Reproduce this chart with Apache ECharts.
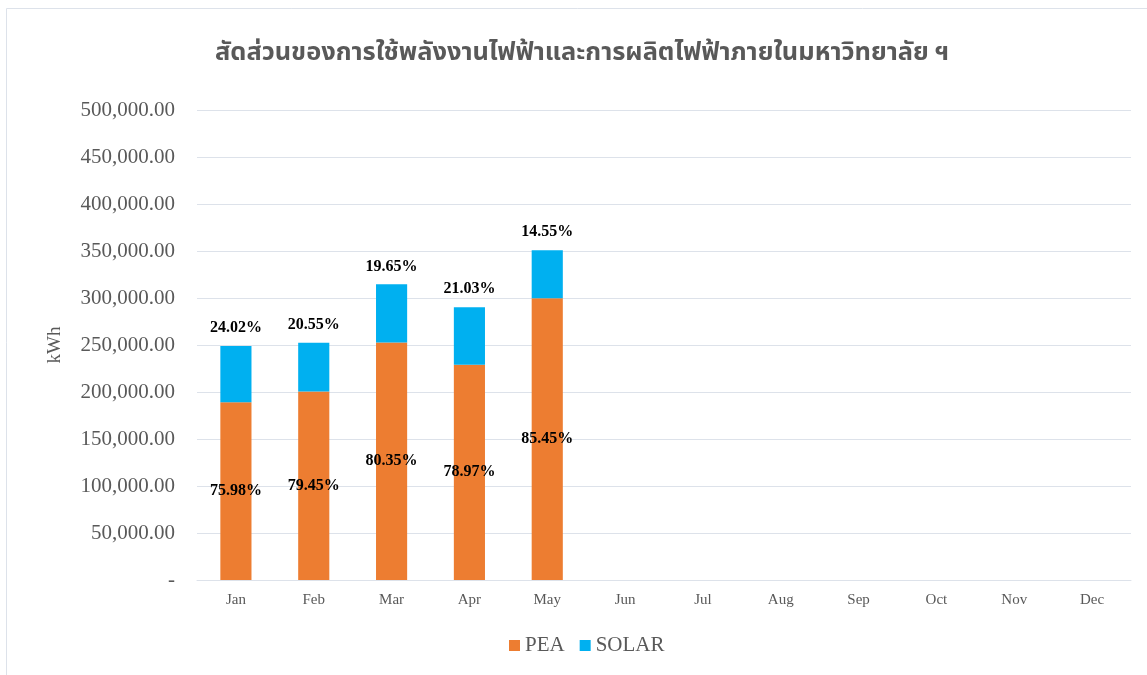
<!DOCTYPE html>
<html>
<head>
<meta charset="utf-8">
<style>
  html, body { margin: 0; padding: 0; background: #fff; }
  #chart { width: 1147px; height: 675px; }
</style>
<script src="https://cdn.jsdelivr.net/npm/echarts@6/dist/echarts.min.js"></script>
</head>
<body>
<div id="chart"></div>
<script>
// monthly energy, kWh
const months = ['Jan', 'Feb', 'Mar', 'Apr', 'May', 'Jun', 'Jul', 'Aug', 'Sep', 'Oct', 'Nov', 'Dec']
const peaValues = [189200, 200600, 252700, 229100, 299700, null, null, null, null, null, null, null]
const solarValues = [59800, 51900, 61800, 61000, 51000, null, null, null, null, null, null, null]
// share labels as printed on the chart
const peaShare = ['75.98%', '79.45%', '80.35%', '78.97%', '85.45%']
const solarShare = ['24.02%', '20.55%', '19.65%', '21.03%', '14.55%']

const serif = '"Liberation Serif", "Times New Roman", serif'
const grey = '#595959'
const gridGrey = '#dde2ea'

const labelStyle = {
	show: true,
	fontFamily: serif,
	fontWeight: 'bold',
	fontSize: 16,
	color: '#000',
}

const chart = echarts.init(document.getElementById('chart'), null, { renderer: 'canvas' })

chart.setOption({
	backgroundColor: '#fff',
	animation: false,
	graphic: [
		{
			type: 'rect',
			shape: { x: 6.5, y: 8.5, width: 1200, height: 700 },
			style: { fill: 'none', stroke: gridGrey, lineWidth: 1 },
			silent: true,
		},
	],
	title: {
		text: 'สัดส่วนของการใช้พลังงานไฟฟ้าและการผลิตไฟฟ้าภายในมหาวิทยาลัย ฯ',
		left: 210,
		top: 37,
		textStyle: {
			fontFamily: '"Noto Sans Thai", "Noto Sans", sans-serif',
			fontWeight: 'bold',
			fontSize: 25.4,
			color: grey,
		},
	},
	legend: {
		bottom: 14,
		left: 504,
		itemWidth: 11,
		itemHeight: 11,
		itemGap: 15,
		icon: 'rect',
		textStyle: { fontFamily: serif, fontSize: 21, color: grey },
		data: ['PEA', 'SOLAR'],
	},
	grid: { left: 197, right: 16, top: 110, bottom: 95, containLabel: false },
	xAxis: {
		type: 'category',
		data: months,
		axisLine: { show: true, lineStyle: { color: gridGrey } },
		axisTick: { show: false },
		axisLabel: { fontFamily: serif, fontSize: 15, color: grey, margin: 13 },
	},
	yAxis: {
		type: 'value',
		min: 0,
		max: 500000,
		interval: 50000,
		name: 'kWh',
		nameLocation: 'middle',
		nameGap: 132,
		nameRotate: 90,
		nameTextStyle: { fontFamily: serif, fontSize: 19, color: grey },
		axisLine: { show: false },
		axisTick: { show: false },
		splitLine: { lineStyle: { color: gridGrey, width: 1 } },
		axisLabel: {
			fontFamily: serif,
			fontSize: 21,
			color: grey,
			margin: 22,
			formatter: (v) => (v === 0 ? '-' : v.toLocaleString('en-US', { minimumFractionDigits: 2, maximumFractionDigits: 2 })),
		},
	},
	series: [
		{
			name: 'PEA',
			type: 'bar',
			stack: 'total',
			barWidth: '40%',
			data: peaValues,
			itemStyle: { color: '#ed7d31' },
			label: {
				...labelStyle,
				position: 'inside',
				formatter: (p) => peaShare[p.dataIndex] || '',
			},
		},
		{
			name: 'SOLAR',
			type: 'bar',
			stack: 'total',
			barWidth: '40%',
			data: solarValues,
			itemStyle: { color: '#00b0f0' },
			label: {
				...labelStyle,
				position: 'top',
				distance: 10,
				formatter: (p) => solarShare[p.dataIndex] || '',
			},
		},
	],
})
</script>
</body>
</html>
